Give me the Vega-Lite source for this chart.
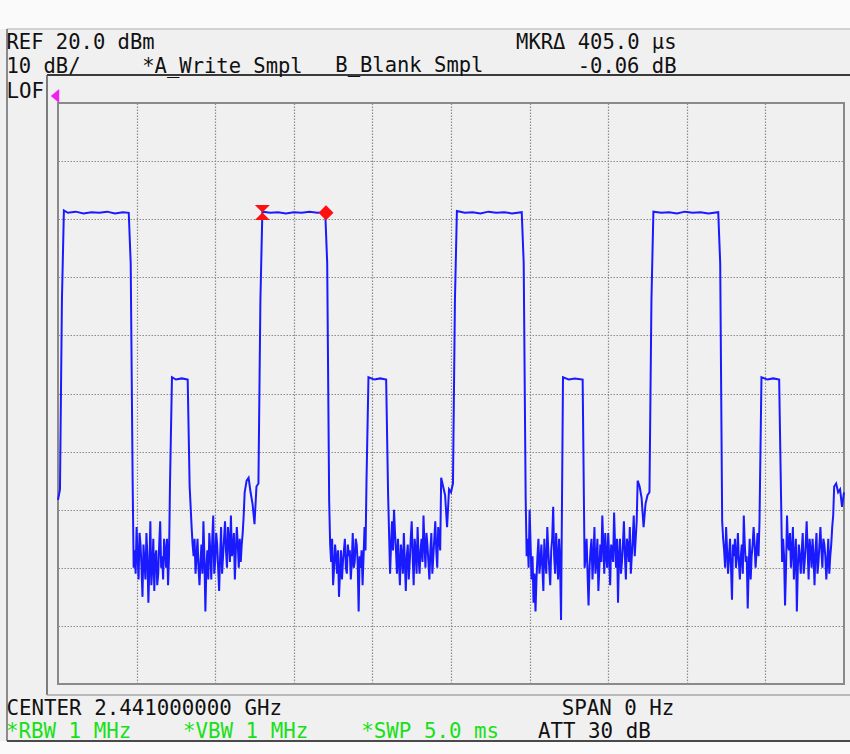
{
"$schema": "https://vega.github.io/schema/vega-lite/v6.json",
"width": 786, "height": 581,
"autosize": {"type": "none"},
"padding": {"left": 58, "top": 103, "right": 6, "bottom": 70},
"background": "#f0f0f0",
"config": {
  "view": {"fill": "#f0f0f0", "stroke": "#8a8a8a", "strokeWidth": 2},
  "text": {"font": "DejaVu Sans Mono", "fontSize": 20.8, "align": "left", "baseline": "alphabetic", "color": "#111111", "lineHeight": 24}
},
"datasets": {
  "trace": [
    {"t":0,"p":-48.3},{"t":12.5,"p":-46.5},{"t":25,"p":-13.9},{"t":37.5,"p":1.5},{"t":62.5,"p":1.1},{"t":112.5,"p":1.3},{"t":162.5,"p":1.0},{"t":212.5,"p":1.2},{"t":262.5,"p":1.1},{"t":312.5,"p":1.3},{"t":362.5,"p":1.0},{"t":412.5,"p":1.2},{"t":450,"p":1.1},{"t":462.5,"p":-7.6},{"t":475,"p":-45.5},
    {"t":487.5,"p":-57},{"t":500,"p":-53},{"t":512.5,"p":-62},{"t":525,"p":-56},{"t":537.5,"p":-65},{"t":550,"p":-59},{"t":562.5,"p":-54},{"t":575,"p":-66},{"t":587.5,"p":-52},{"t":600,"p":-60},{"t":612.5,"p":-64},{"t":625,"p":-57},{"t":637.5,"p":-61},{"t":650,"p":-52},{"t":662.5,"p":-58},{"t":675,"p":-55},{"t":687.5,"p":-60},{"t":700,"p":-63},{"t":712.5,"p":-45.5},
    {"t":725,"p":-27.2},{"t":750,"p":-27.6},{"t":787.5,"p":-27.4},{"t":825,"p":-27.6},{"t":837.5,"p":-46},
    {"t":850,"p":-53},{"t":862.5,"p":-58},{"t":875,"p":-61},{"t":887.5,"p":-55},{"t":900,"p":-63},{"t":912.5,"p":-56},{"t":925,"p":-52},{"t":937.5,"p":-67.5},{"t":950,"p":-57},{"t":962.5,"p":-54},{"t":975,"p":-62},{"t":987.5,"p":-51},{"t":1000,"p":-59},{"t":1012.5,"p":-56},{"t":1025,"p":-64},{"t":1037.5,"p":-53},{"t":1050,"p":-58},{"t":1062.5,"p":-52},{"t":1075,"p":-60},{"t":1087.5,"p":-55},{"t":1100,"p":-51},{"t":1112.5,"p":-57},{"t":1125,"p":-62},{"t":1137.5,"p":-53},{"t":1150,"p":-60},{"t":1162.5,"p":-59},{"t":1175,"p":-54},
    {"t":1187.5,"p":-47},{"t":1200,"p":-45},{"t":1212.5,"p":-44.5},{"t":1225,"p":-47},{"t":1237.5,"p":-49},{"t":1250,"p":-52.5},{"t":1262.5,"p":-46},{"t":1275,"p":-45.5},{"t":1287.5,"p":-14},
    {"t":1300,"p":1.3},{"t":1350,"p":1.1},{"t":1400,"p":1.2},{"t":1450,"p":1.0},{"t":1500,"p":1.2},{"t":1550,"p":1.1},{"t":1600,"p":1.3},{"t":1650,"p":1.1},{"t":1700,"p":1.2},{"t":1712.5,"p":-7.6},{"t":1725,"p":-48.5},
    {"t":1737.5,"p":-59},{"t":1750,"p":-63},{"t":1762.5,"p":-56},{"t":1775,"p":-61},{"t":1787.5,"p":-65},{"t":1800,"p":-57},{"t":1812.5,"p":-59},{"t":1825,"p":-55},{"t":1837.5,"p":-61},{"t":1850,"p":-58},{"t":1862.5,"p":-62},{"t":1875,"p":-54},{"t":1887.5,"p":-59},{"t":1900,"p":-56},{"t":1912.5,"p":-67.5},{"t":1925,"p":-60},{"t":1937.5,"p":-63},{"t":1950,"p":-53},{"t":1962.5,"p":-45},
    {"t":1975,"p":-27.2},{"t":2012.5,"p":-27.6},{"t":2050,"p":-27.4},{"t":2087.5,"p":-27.6},{"t":2100,"p":-47.5},
    {"t":2112.5,"p":-61},{"t":2125,"p":-52},{"t":2137.5,"p":-50},{"t":2150,"p":-57},{"t":2162.5,"p":-55},{"t":2175,"p":-63},{"t":2187.5,"p":-58},{"t":2200,"p":-54},{"t":2212.5,"p":-64},{"t":2225,"p":-56},{"t":2237.5,"p":-59},{"t":2250,"p":-52},{"t":2262.5,"p":-63},{"t":2275,"p":-57},{"t":2287.5,"p":-53},{"t":2300,"p":-61},{"t":2312.5,"p":-55},{"t":2325,"p":-51},{"t":2337.5,"p":-60},{"t":2350,"p":-56},{"t":2362.5,"p":-62},{"t":2375,"p":-54},{"t":2387.5,"p":-58},{"t":2400,"p":-52},{"t":2412.5,"p":-60},{"t":2425,"p":-55},
    {"t":2437.5,"p":-44.5},{"t":2450,"p":-46},{"t":2462.5,"p":-47.5},{"t":2475,"p":-53},{"t":2487.5,"p":-46.5},{"t":2500,"p":-47},{"t":2512.5,"p":-45.5},{"t":2525,"p":-14},
    {"t":2537.5,"p":1.4},{"t":2587.5,"p":1.1},{"t":2637.5,"p":1.2},{"t":2687.5,"p":1.0},{"t":2737.5,"p":1.3},{"t":2787.5,"p":1.1},{"t":2837.5,"p":1.2},{"t":2887.5,"p":1.0},{"t":2950,"p":1.2},{"t":2962.5,"p":-7.6},{"t":2975,"p":-48},
    {"t":2987.5,"p":-55},{"t":3000,"p":-50},{"t":3012.5,"p":-62},{"t":3025,"p":-66},{"t":3037.5,"p":-67.5},{"t":3050,"p":-58},{"t":3062.5,"p":-61},{"t":3075,"p":-56},{"t":3087.5,"p":-64},{"t":3100,"p":-59},{"t":3112.5,"p":-53},{"t":3125,"p":-60},{"t":3137.5,"p":-57},{"t":3150,"p":-49.5},{"t":3162.5,"p":-61},{"t":3175,"p":-58},{"t":3187.5,"p":-55},{"t":3200,"p":-69},
    {"t":3212.5,"p":-27.2},{"t":3250,"p":-27.6},{"t":3287.5,"p":-27.4},{"t":3337.5,"p":-27.6},{"t":3350,"p":-60},
    {"t":3362.5,"p":-55},{"t":3375,"p":-66.5},{"t":3387.5,"p":-57},{"t":3400,"p":-62},{"t":3412.5,"p":-53},{"t":3425,"p":-59},{"t":3437.5,"p":-64},{"t":3450,"p":-56},{"t":3462.5,"p":-51},{"t":3475,"p":-61},{"t":3487.5,"p":-58},{"t":3500,"p":-54},{"t":3512.5,"p":-63},{"t":3525,"p":-57},{"t":3537.5,"p":-50.5},{"t":3550,"p":-60},{"t":3562.5,"p":-66},{"t":3575,"p":-55},{"t":3587.5,"p":-59},{"t":3600,"p":-52},{"t":3612.5,"p":-62},{"t":3625,"p":-56},{"t":3637.5,"p":-53},{"t":3650,"p":-58},{"t":3662.5,"p":-51},{"t":3675,"p":-55},
    {"t":3687.5,"p":-45},{"t":3700,"p":-46},{"t":3712.5,"p":-48},{"t":3725,"p":-53},{"t":3737.5,"p":-49},{"t":3750,"p":-47.5},{"t":3762.5,"p":-47},{"t":3775,"p":-14},
    {"t":3787.5,"p":1.3},{"t":3837.5,"p":1.1},{"t":3887.5,"p":1.2},{"t":3937.5,"p":1.0},{"t":3987.5,"p":1.3},{"t":4037.5,"p":1.1},{"t":4087.5,"p":1.2},{"t":4137.5,"p":1.0},{"t":4200,"p":1.2},{"t":4212.5,"p":-7.6},{"t":4225,"p":-52},
    {"t":4237.5,"p":-57},{"t":4250,"p":-53},{"t":4262.5,"p":-61},{"t":4275,"p":-55},{"t":4287.5,"p":-65.5},{"t":4300,"p":-58},{"t":4312.5,"p":-60},{"t":4325,"p":-54},{"t":4337.5,"p":-62},{"t":4350,"p":-56},{"t":4362.5,"p":-51},{"t":4375,"p":-59},{"t":4387.5,"p":-67},{"t":4400,"p":-55},{"t":4412.5,"p":-58},{"t":4425,"p":-53},{"t":4437.5,"p":-60},{"t":4450,"p":-54},{"t":4462.5,"p":-52},
    {"t":4475,"p":-27.2},{"t":4512.5,"p":-27.6},{"t":4550,"p":-27.4},{"t":4587.5,"p":-27.6},{"t":4600,"p":-48.5},
    {"t":4612.5,"p":-55},{"t":4625,"p":-66.5},{"t":4637.5,"p":-51},{"t":4650,"p":-57},{"t":4662.5,"p":-60},{"t":4675,"p":-53},{"t":4687.5,"p":-58},{"t":4700,"p":-67.5},{"t":4712.5,"p":-56},{"t":4725,"p":-61},{"t":4737.5,"p":-54},{"t":4750,"p":-59},{"t":4762.5,"p":-52},{"t":4775,"p":-62},{"t":4787.5,"p":-57},{"t":4800,"p":-55},{"t":4812.5,"p":-63},{"t":4825,"p":-54},{"t":4837.5,"p":-59},{"t":4850,"p":-53},{"t":4862.5,"p":-60},{"t":4875,"p":-56},{"t":4887.5,"p":-62},{"t":4900,"p":-55},{"t":4912.5,"p":-58},{"t":4925,"p":-53},
    {"t":4937.5,"p":-46},{"t":4950,"p":-45.5},{"t":4962.5,"p":-47},{"t":4975,"p":-46.5},{"t":4987.5,"p":-49.5},{"t":5000,"p":-47},
    {"t":481.25,"p":-60},{"t":493.75,"p":-61},{"t":506.25,"p":-58},{"t":518.75,"p":-54},{"t":531.25,"p":-60},{"t":543.75,"p":-56},{"t":556.25,"p":-62},{"t":568.75,"p":-58},{"t":581.25,"p":-60},{"t":593.75,"p":-63},{"t":606.25,"p":-55},{"t":618.75,"p":-58},{"t":631.25,"p":-63},{"t":643.75,"p":-56},{"t":656.25,"p":-60},{"t":668.75,"p":-62},{"t":681.25,"p":-57},{"t":693.75,"p":-55},{"t":706.25,"p":-58},
    {"t":856.25,"p":-56},{"t":868.75,"p":-55},{"t":881.25,"p":-58},{"t":893.75,"p":-60},{"t":906.25,"p":-59},{"t":918.75,"p":-61},{"t":931.25,"p":-58},{"t":943.75,"p":-60},{"t":956.25,"p":-62},{"t":968.75,"p":-57},{"t":981.25,"p":-55},{"t":993.75,"p":-61},{"t":1006.25,"p":-54},{"t":1018.75,"p":-60},{"t":1031.25,"p":-58},{"t":1043.75,"p":-61},{"t":1056.25,"p":-55},{"t":1068.75,"p":-57},{"t":1081.25,"p":-53},{"t":1093.75,"p":-59},{"t":1106.25,"p":-58},{"t":1118.75,"p":-54},{"t":1131.25,"p":-57},{"t":1143.75,"p":-56},{"t":1156.25,"p":-55},{"t":1168.75,"p":-56},{"t":1181.25,"p":-51},
    {"t":1731.25,"p":-56},{"t":1743.75,"p":-55},{"t":1756.25,"p":-60},{"t":1768.75,"p":-58},{"t":1781.25,"p":-57},{"t":1793.75,"p":-61},{"t":1806.25,"p":-62},{"t":1818.75,"p":-57},{"t":1831.25,"p":-60},{"t":1843.75,"p":-56},{"t":1856.25,"p":-57},{"t":1868.75,"p":-59},{"t":1881.25,"p":-60},{"t":1893.75,"p":-55},{"t":1906.25,"p":-59},{"t":1918.75,"p":-58},{"t":1931.25,"p":-57},{"t":1943.75,"p":-58},{"t":1956.25,"p":-57},
    {"t":2118.75,"p":-56},{"t":2131.25,"p":-57},{"t":2143.75,"p":-54},{"t":2156.25,"p":-61},{"t":2168.75,"p":-59},{"t":2181.25,"p":-56},{"t":2193.75,"p":-61},{"t":2206.25,"p":-59},{"t":2218.75,"p":-58},{"t":2231.25,"p":-62},{"t":2243.75,"p":-55},{"t":2256.25,"p":-58},{"t":2268.75,"p":-55},{"t":2281.25,"p":-61},{"t":2293.75,"p":-58},{"t":2306.25,"p":-57},{"t":2318.75,"p":-59},{"t":2331.25,"p":-56},{"t":2343.75,"p":-54},{"t":2356.25,"p":-59},{"t":2368.75,"p":-57},{"t":2381.25,"p":-61},{"t":2393.75,"p":-55},{"t":2406.25,"p":-57},{"t":2418.75,"p":-53},{"t":2431.25,"p":-57},
    {"t":2981.25,"p":-58},{"t":2993.75,"p":-60},{"t":3006.25,"p":-56},{"t":3018.75,"p":-58},{"t":3031.25,"p":-61},{"t":3043.75,"p":-62},{"t":3056.25,"p":-55},{"t":3068.75,"p":-59},{"t":3081.25,"p":-60},{"t":3093.75,"p":-55},{"t":3106.25,"p":-61},{"t":3118.75,"p":-57},{"t":3131.25,"p":-63},{"t":3143.75,"p":-55},{"t":3156.25,"p":-58},{"t":3168.75,"p":-54},{"t":3181.25,"p":-62},{"t":3193.75,"p":-59},
    {"t":3356.25,"p":-58},{"t":3368.75,"p":-61},{"t":3381.25,"p":-60},{"t":3393.75,"p":-55},{"t":3406.25,"p":-58},{"t":3418.75,"p":-61},{"t":3431.25,"p":-55},{"t":3443.75,"p":-60},{"t":3456.25,"p":-59},{"t":3468.75,"p":-56},{"t":3481.25,"p":-54},{"t":3493.75,"p":-60},{"t":3506.25,"p":-58},{"t":3518.75,"p":-56},{"t":3531.25,"p":-59},{"t":3543.75,"p":-56},{"t":3556.25,"p":-55},{"t":3568.75,"p":-58},{"t":3581.25,"p":-61},{"t":3593.75,"p":-56},{"t":3606.25,"p":-58},{"t":3618.75,"p":-55},{"t":3631.25,"p":-59},{"t":3643.75,"p":-61},{"t":3656.25,"p":-55},{"t":3668.75,"p":-58},{"t":3681.25,"p":-52},
    {"t":4231.25,"p":-55},{"t":4243.75,"p":-60},{"t":4256.25,"p":-57},{"t":4268.75,"p":-58},{"t":4281.25,"p":-60},{"t":4293.75,"p":-56},{"t":4306.25,"p":-55},{"t":4318.75,"p":-58},{"t":4331.25,"p":-59},{"t":4343.75,"p":-58},{"t":4356.25,"p":-61},{"t":4368.75,"p":-56},{"t":4381.25,"p":-58},{"t":4393.75,"p":-60},{"t":4406.25,"p":-62},{"t":4418.75,"p":-56},{"t":4431.25,"p":-56},{"t":4443.75,"p":-57},{"t":4456.25,"p":-58},
    {"t":4606.25,"p":-59},{"t":4618.75,"p":-58},{"t":4631.25,"p":-60},{"t":4643.75,"p":-56},{"t":4656.25,"p":-54},{"t":4668.75,"p":-57},{"t":4681.25,"p":-62},{"t":4693.75,"p":-55},{"t":4706.25,"p":-60},{"t":4718.75,"p":-58},{"t":4731.25,"p":-57},{"t":4743.75,"p":-61},{"t":4756.25,"p":-56},{"t":4768.75,"p":-57},{"t":4781.25,"p":-55},{"t":4793.75,"p":-60},{"t":4806.25,"p":-58},{"t":4818.75,"p":-57},{"t":4831.25,"p":-61},{"t":4843.75,"p":-56},{"t":4856.25,"p":-57},{"t":4868.75,"p":-55},{"t":4881.25,"p":-58},{"t":4893.75,"p":-59},{"t":4906.25,"p":-61},{"t":4918.75,"p":-56},{"t":4931.25,"p":-51}
  ],
  "markers": [
    {"t":1300,"p":1.15,"m":"ref"},
    {"t":1705,"p":1.09,"m":"delta"}
  ]
},
"layer": [
  {"data": {"values": [{}]}, "mark": {"type": "rect", "fill": "#fafafa"},
   "encoding": {"x": {"datum": -400}, "x2": {"datum": 5100}, "y": {"datum": 32.74}, "y2": {"datum": 45}}},
  {"data": {"values": [{}]}, "mark": {"type": "rect", "fill": "#fafafa"},
   "encoding": {"x": {"datum": -400}, "x2": {"datum": 5100}, "y": {"datum": -89.81}, "y2": {"datum": -95}}},
  {"data": {"name": "trace"},
   "mark": {"type": "line", "color": "#1a1aff", "strokeWidth": 2, "interpolate": "linear"},
   "encoding": {
     "x": {"field": "t", "type": "quantitative", "scale": {"domain": [0, 5000], "nice": false, "zero": false},
       "axis": {"values": [500,1000,1500,2000,2500,3000,3500,4000,4500], "grid": true, "labels": false, "ticks": false, "domain": false, "title": null, "gridColor": "#8c8c8c", "gridDash": [1.5,1.5], "gridWidth": 1.2, "gridOpacity": 1}},
     "y": {"field": "p", "type": "quantitative", "scale": {"domain": [-80, 20], "nice": false, "zero": false},
       "axis": {"values": [-70,-60,-50,-40,-30,-20,-10,0,10], "grid": true, "labels": false, "ticks": false, "domain": false, "title": null, "gridColor": "#8c8c8c", "gridDash": [1.5,1.5], "gridWidth": 1.2, "gridOpacity": 1}}
   }},
  {"data": {"name": "markers"},
   "mark": {"type": "point", "filled": true, "color": "#ff1010", "size": 225, "opacity": 1},
   "encoding": {
     "x": {"field": "t", "type": "quantitative"},
     "y": {"field": "p", "type": "quantitative"},
     "shape": {"field": "m", "type": "nominal", "scale": {"domain": ["ref", "delta"], "range": ["M-1,-1L1,-1L-1,1L1,1Z", "diamond"]}, "legend": null}
   }},
  {"data": {"values": [{}]},
   "mark": {"type": "point", "filled": true, "color": "#f020f0", "size": 196, "opacity": 1, "shape": "M-0.6,0L0.6,-1L0.6,1Z"},
   "encoding": {"x": {"datum": -19}, "y": {"datum": 21.2}}},
  {"data": {"values": [{}]}, "mark": {"type": "rule", "color": "#3a3a3a", "strokeWidth": 2},
   "encoding": {"x": {"datum": -70}, "x2": {"datum": 5040}, "y": {"datum": 24.82}}},
  {"data": {"values": [{}]}, "mark": {"type": "rule", "color": "#555555", "strokeWidth": 1.5},
   "encoding": {"x": {"datum": -70}, "y": {"datum": 24.82}, "y2": {"datum": -81.89}}},
  {"data": {"values": [{}]}, "mark": {"type": "rule", "color": "#a8a8a8", "strokeWidth": 1.5},
   "encoding": {"x": {"datum": -70}, "x2": {"datum": 5040}, "y": {"datum": -81.89}}},
  {"data": {"values": [{}]}, "mark": {"type": "rule", "color": "#c4c4c4", "strokeWidth": 1.5},
   "encoding": {"x": {"datum": -324.4}, "x2": {"datum": 5040}, "y": {"datum": 32.74}}},
  {"data": {"values": [{}]}, "mark": {"type": "rule", "color": "#6a6a6a", "strokeWidth": 1.5},
   "encoding": {"x": {"datum": -324.4}, "y": {"datum": 32.74}, "y2": {"datum": -89.81}}},
  {"data": {"values": [{}]}, "mark": {"type": "rule", "color": "#4a4a4a", "strokeWidth": 2},
   "encoding": {"x": {"datum": -324.4}, "x2": {"datum": 5040}, "y": {"datum": -89.81}}},
  {"data": {"values": [{}]}, "mark": {"type": "text", "fontSize": 20.5},
   "encoding": {"x": {"datum": -327.6}, "y": {"datum": 29.38}, "text": {"value": ["REF 20.0 dBm", "10 dB/\u00a0\u00a0\u00a0\u00a0\u00a0*A_Write Smpl"]}}},
  {"data": {"values": [{}]}, "mark": {"type": "text", "align": "right", "fontSize": 20.5},
   "encoding": {"x": {"datum": 3934.5}, "y": {"datum": 29.38}, "text": {"value": ["MKRΔ 405.0 µs", "-0.06 dB"]}}},
  {"data": {"values": [{}]}, "mark": {"type": "text", "fontSize": 20.5},
   "encoding": {"x": {"datum": 1764}, "y": {"datum": 25.25}, "text": {"value": "B_Blank Smpl"}}},
  {"data": {"values": [{}]}, "mark": {"type": "text"},
   "encoding": {"x": {"datum": -327.6}, "y": {"datum": 20.81}, "text": {"value": "LOF"}}},
  {"data": {"values": [{}]}, "mark": {"type": "text"},
   "encoding": {"x": {"datum": -327.6}, "y": {"datum": -85.34}, "text": {"value": "CENTER 2.441000000 GHz"}}},
  {"data": {"values": [{}]}, "mark": {"type": "text"},
   "encoding": {"x": {"datum": 3204}, "y": {"datum": -85.34}, "text": {"value": "SPAN 0 Hz"}}},
  {"data": {"values": [{}]}, "mark": {"type": "text", "color": "#18e018"},
   "encoding": {"x": {"datum": -330.8}, "y": {"datum": -89.35}, "text": {"value": "*RBW 1 MHz"}}},
  {"data": {"values": [{}]}, "mark": {"type": "text", "color": "#18e018"},
   "encoding": {"x": {"datum": 795.2}, "y": {"datum": -89.35}, "text": {"value": "*VBW 1 MHz"}}},
  {"data": {"values": [{}]}, "mark": {"type": "text", "color": "#18e018"},
   "encoding": {"x": {"datum": 1929.4}, "y": {"datum": -89.35}, "text": {"value": "*SWP 5.0 ms"}}},
  {"data": {"values": [{}]}, "mark": {"type": "text"},
   "encoding": {"x": {"datum": 3053.4}, "y": {"datum": -89.35}, "text": {"value": "ATT 30 dB"}}}
]
}
